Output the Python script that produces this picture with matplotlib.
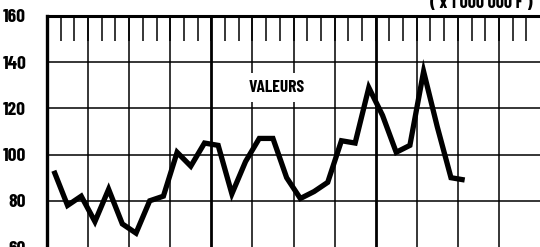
import matplotlib
matplotlib.use('Agg')
import matplotlib.pyplot as plt
import numpy as np

# monthly values (x 1 000 000 F)
values = [93, 78, 82, 71, 85, 70, 66, 80, 82, 101, 95, 105, 104, 83, 97,
          107, 107, 90, 81, 84, 88, 106, 105, 129, 117, 101, 104, 136, 112,
          90, 89]
yticks = [60, 80, 100, 120, 140, 160]
ytick_labels = ['60', '80', '100', '120', '140', '160']
n_months = 36
label = 'VALEURS'
unit = '( x 1 000 000 F )'

FONT = ['Barlow Condensed', 'DejaVu Sans']

fig = plt.figure(figsize=(5.4, 2.47), dpi=100)
ax = fig.add_axes([47 / 540, 0, 1 - 47 / 540, 1 - 16 / 247])

ax.set_xlim(0, n_months)
ax.set_ylim(60, 160)

# grid: horizontal lines, quarterly verticals, thicker year boundaries
for y in yticks[1:-1]:
    ax.axhline(y, color='black', lw=1.1, zorder=1)
for m in range(3, n_months, 3):
    ax.axvline(m, color='black', lw=2.0 if m % 12 == 0 else 1.1, zorder=1)

x = np.arange(len(values)) + 0.5
ax.plot(x, values, color='black', lw=3.8, solid_joinstyle='miter',
        solid_capstyle='butt', zorder=3)

ax.text(16.8, 129, label, ha='center', va='center', fontsize=12.5,
        fontweight='bold', family=FONT, zorder=2,
        bbox=dict(facecolor='white', edgecolor='none', pad=5))

for side in ['bottom', 'right']:
    ax.spines[side].set_visible(False)
ax.spines['top'].set_linewidth(2.2)
ax.spines['left'].set_linewidth(2.4)

ax.set_xticks(range(1, n_months))
ax.tick_params(axis='x', bottom=False, labelbottom=False, top=True,
               direction='in', length=18, width=1.1)
ax.set_yticks(yticks)
ax.set_yticklabels(ytick_labels, fontsize=14, fontweight='bold',
                   family=FONT)
ax.tick_params(axis='y', length=0, pad=15)

fig.text(0.987, 1 - 8 / 247, unit, ha='right', va='baseline', fontsize=13,
         fontweight='bold', family=FONT)

fig.savefig('out.png', dpi=100)
